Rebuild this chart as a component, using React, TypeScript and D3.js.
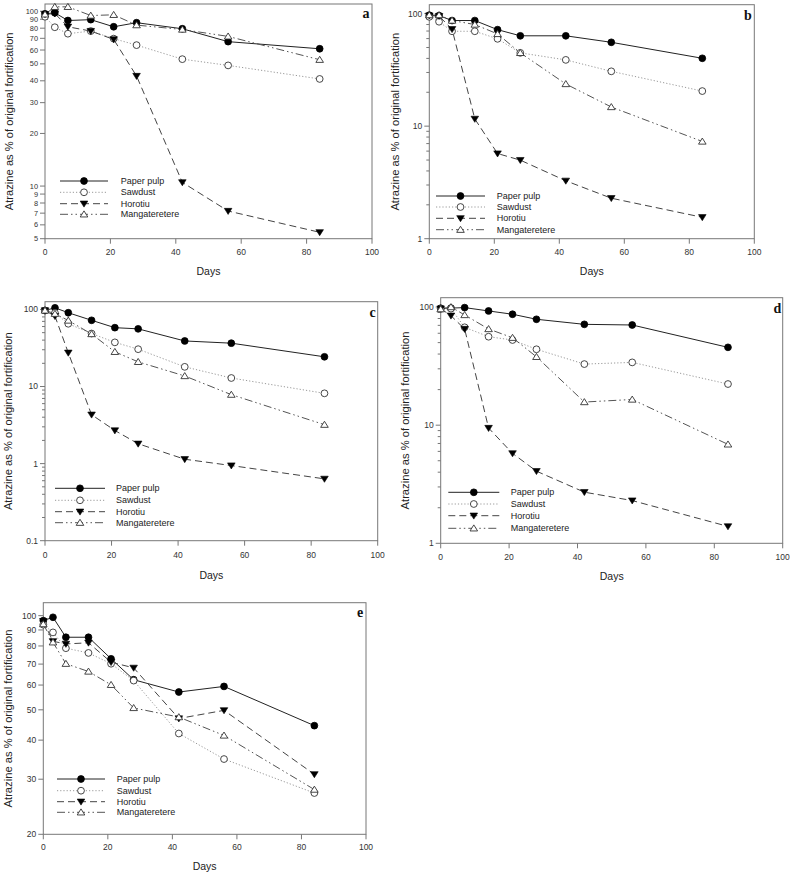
import React from "react";
import * as d3 from "d3";

const days = [0, 3, 7, 14, 21, 28, 42, 56, 84];
const seriesNames = ["Paper pulp", "Sawdust", "Horotiu", "Mangateretere"];
const xTicks = [0, 20, 40, 60, 80, 100];

const aPaper = [96.7, 98, 88.5, 89.5, 81.5, 86, 79.4, 67, 61];
const aSawdust = [93, 81, 74.4, 77, 69.7, 64, 53.2, 49, 41];
const aHorotiu = [96, 97, 81.5, 77, 69, 42.6, 10.5, 7.2, 5.44];
const aMang = [96, 106, 106, 94.5, 95.4, 83.3, 78.6, 71.8, 52.8];

const bPaper = [96.8, 96, 86.8, 86.8, 72, 63.5, 63.5, 55.6, 40.1];
const bSawdust = [93.6, 84.7, 69.7, 69.7, 59.7, 44.8, 38.8, 30.7, 20.5];
const bHorotiu = [96, 95, 72.7, 11.6, 5.71, 4.99, 3.27, 2.29, 1.55];
const bMang = [97, 97, 86.8, 80, 66, 44.8, 23.7, 14.8, 7.31];

const cPaper = [97, 105, 90.6, 72.3, 58, 56, 39, 36.5, 24.3];
const cSawdust = [97, 90, 65.2, 48.7, 37.4, 30.5, 18, 12.9, 8.16];
const cHorotiu = [97, 81.8, 27.4, 4.31, 2.69, 1.81, 1.14, 0.944, 0.634];
const cMang = [97, 88, 71.9, 48, 28.2, 20.9, 13.7, 7.85, 3.2];

const dPaper = [97.7, 98, 98.9, 92.7, 86.9, 78.8, 71.4, 70.5, 45.6];
const dSawdust = [96.4, 97, 67.4, 56.1, 52.6, 43.9, 32.9, 34, 22.3];
const dHorotiu = [97, 84.5, 65.2, 9.46, 5.77, 4.08, 2.71, 2.3, 1.39];
const dMang = [96, 100, 85.7, 65.2, 55, 37.9, 15.7, 16.5, 6.88];

const ePaper = [96.4, 98.8, 85.3, 85.3, 72.8, 62.4, 57, 59.4, 44.5];
const eSawdust = [93.6, 88.4, 78.7, 76, 70.2, 62, 42, 34.8, 27.1];
const eHorotiu = [96, 82.8, 81.2, 81.9, 71, 68.1, 46.9, 49.8, 31.1];
const eMang = [94, 82.2, 70.2, 66.3, 60.1, 50.7, 47.4, 41.4, 27.8];

const aYTicks = [5, 6, 7, 8, 9, 10, 20, 30, 40, 50, 60, 70, 80, 90, 100];
const bYTicks = [1, 10, 100];
const cYTicks = [0.1, 1, 10, 100];
const dYTicks = [1, 10, 100];
const eYTicks = [20, 30, 40, 50, 60, 70, 80, 90, 100];

const styles = [
  { dash: "none", color: "#222", marker: "circleFilled" },
  { dash: "1.2,2", color: "#999", marker: "circleOpen" },
  { dash: "7,4", color: "#444", marker: "triDown" },
  { dash: "8,3,1.5,3,1.5,3", color: "#555", marker: "triUp" },
];

const FONT = "'Liberation Sans', Arial, sans-serif";

function Marker({ type, x, y }) {
  if (type === "circleFilled") return <circle cx={x} cy={y} r={3.4} fill="#000" stroke="#000" strokeWidth={0.8} />;
  if (type === "circleOpen") return <circle cx={x} cy={y} r={3.4} fill="#fff" stroke="#333" strokeWidth={0.9} />;
  if (type === "triDown") {
    const s = 3.8;
    return <path d={`M${x - s},${y - s * 0.7}L${x + s},${y - s * 0.7}L${x},${y + s * 0.9}Z`} fill="#000" stroke="#000" strokeWidth={0.6} />;
  }
  const s = 3.8;
  return <path d={`M${x - s},${y + s * 0.7}L${x + s},${y + s * 0.7}L${x},${y - s * 0.9}Z`} fill="#fff" stroke="#333" strokeWidth={0.9} />;
}

function minorTicks(domain) {
  const res = [];
  const lo = Math.floor(Math.log10(domain[0]));
  const hi = Math.ceil(Math.log10(domain[1]));
  for (let e = lo; e <= hi; e++) {
    for (let k = 2; k <= 9; k++) {
      const v = k * Math.pow(10, e);
      if (v >= domain[0] && v <= domain[1]) res.push(v);
    }
  }
  return res;
}

function Panel({ p }) {
  const x = d3.scaleLinear().domain([0, 100]).range([p.left, p.right]);
  const y = d3.scaleLog().domain(p.yDomain).range([p.bottom, p.top]);
  const line = d3.line<number>().x((_, i) => x(days[i])).y((v) => y(v));
  const minors = p.minor ? minorTicks(p.yDomain).filter((v) => !p.yTicks.includes(v)) : [];
  const fmt = (v) => (v < 1 ? String(v) : String(Math.round(v)));
  return (
    <g>
      <rect x={p.left} y={p.top} width={p.right - p.left} height={p.bottom - p.top} fill="none" stroke="#777" strokeWidth={1} />
      {p.yTicks.map((v) => (
        <g key={"y" + v}>
          <line x1={p.left - 5} x2={p.left} y1={y(v)} y2={y(v)} stroke="#777" />
          <text x={p.left - 7} y={y(v)} dy="0.34em" textAnchor="end" fontSize={p.yFont} fontFamily={FONT} fill="#333">{fmt(v)}</text>
        </g>
      ))}
      {minors.map((v) => (
        <line key={"m" + v} x1={p.left - 3} x2={p.left} y1={y(v)} y2={y(v)} stroke="#777" />
      ))}
      {xTicks.map((v) => (
        <g key={"x" + v}>
          <line x1={x(v)} x2={x(v)} y1={p.bottom} y2={p.bottom + 5} stroke="#777" />
          <text x={x(v)} y={p.xLabelY} dy="0.34em" textAnchor="middle" fontSize={8.5} fontFamily={FONT} fill="#333">{v}</text>
        </g>
      ))}
      <text x={(p.left + p.right) / 2} y={p.daysY} dy="0.35em" textAnchor="middle" fontSize={10.5} fontFamily={FONT} fill="#222">Days</text>
      <text transform={`translate(${p.titleX},${(p.top + p.bottom) / 2}) rotate(-90)`} dy="0.35em" textAnchor="middle" fontSize={11.2} fontFamily={FONT} fill="#222">
        Atrazine as % of original fortification
      </text>
      <text x={p.letterX} y={p.letterY} dy="0.35em" textAnchor="middle" fontSize={14} fontWeight="bold" fontFamily="'Liberation Serif', 'Times New Roman', serif" fill="#111">{p.letter}</text>
      {p.series.map((vals, si) => (
        <path key={"l" + si} d={line(vals) || ""} fill="none" stroke={styles[si].color} strokeWidth={1} strokeDasharray={styles[si].dash} />
      ))}
      {p.series.map((vals, si) => (
        <g key={"mk" + si}>
          {vals.map((v, i) => (
            <Marker key={i} type={styles[si].marker} x={x(days[i])} y={y(v)} />
          ))}
        </g>
      ))}
      {seriesNames.map((name, si) => {
        const ly = p.legendRows[si];
        return (
          <g key={"lg" + si}>
            <line x1={p.legendX0} x2={p.legendX1} y1={ly} y2={ly} stroke={styles[si].color} strokeWidth={1} strokeDasharray={styles[si].dash} />
            <Marker type={styles[si].marker} x={(p.legendX0 + p.legendX1) / 2} y={ly} />
            <text x={p.legendTextX} y={ly} dy="0.35em" fontSize={9} fontFamily={FONT} fill="#222">{name}</text>
          </g>
        );
      })}
    </g>
  );
}

const panels = [
  {
    letter: "a", left: 45, right: 372, top: 4, bottom: 238.7, yDomain: [5, 110], yTicks: aYTicks, minor: false, yFont: 7.4,
    series: [aPaper, aSawdust, aHorotiu, aMang], xLabelY: 251.7, daysY: 271, titleX: 8.7, letterX: 366, letterY: 13,
    legendX0: 60, legendX1: 108, legendTextX: 120.7, legendRows: [181, 192.3, 203.7, 214.3],
  },
  {
    letter: "b", left: 429.3, right: 754.3, top: 4.7, bottom: 238.7, yDomain: [1, 120], yTicks: bYTicks, minor: true, yFont: 8.5,
    series: [bPaper, bSawdust, bHorotiu, bMang], xLabelY: 251.7, daysY: 271.7, titleX: 395.5, letterX: 748, letterY: 15,
    legendX0: 436, legendX1: 485, legendTextX: 496.7, legendRows: [196, 207, 218.3, 229.7],
  },
  {
    letter: "c", left: 45, right: 377.7, top: 301.7, bottom: 540.7, yDomain: [0.1, 126], yTicks: cYTicks, minor: true, yFont: 8.5,
    series: [cPaper, cSawdust, cHorotiu, cMang], xLabelY: 555, daysY: 575, titleX: 8.5, letterX: 372.5, letterY: 312.3,
    legendX0: 55, legendX1: 105, legendTextX: 116, legendRows: [488.3, 500.3, 511.7, 522.7],
  },
  {
    letter: "d", left: 440.7, right: 782.7, top: 297.7, bottom: 543.3, yDomain: [1, 120], yTicks: dYTicks, minor: true, yFont: 8.5,
    series: [dPaper, dSawdust, dHorotiu, dMang], xLabelY: 556.7, daysY: 576.7, titleX: 405, letterX: 777.5, letterY: 307.7,
    legendX0: 448.3, legendX1: 499.3, legendTextX: 510.7, legendRows: [492.3, 504, 515.7, 528.3],
  },
  {
    letter: "e", left: 43.3, right: 366, top: 602.7, bottom: 834.3, yDomain: [20, 110], yTicks: eYTicks, minor: false, yFont: 8.5,
    series: [ePaper, eSawdust, eHorotiu, eMang], xLabelY: 847.3, daysY: 866.7, titleX: 8.3, letterX: 360, letterY: 612.3,
    legendX0: 57, legendX1: 105, legendTextX: 116.7, legendRows: [779, 790.7, 801.7, 812.3],
  },
];

export default function App() {
  return (
    <svg width={792} height={875} style={{ position: "absolute", left: 0, top: 0, background: "#fff" }}>
      <rect width={792} height={875} fill="#fff" />
      {panels.map((p) => (
        <Panel key={p.letter} p={p} />
      ))}
    </svg>
  );
}
